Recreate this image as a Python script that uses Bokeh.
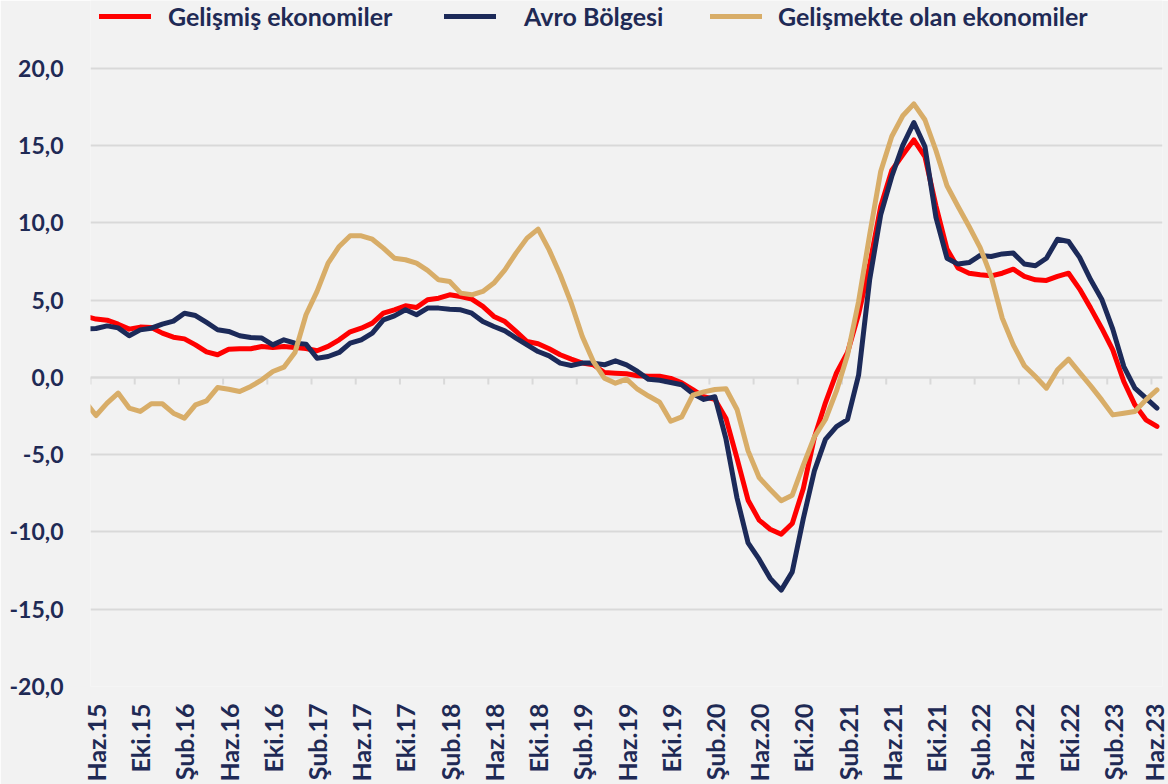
import math
from bokeh.plotting import figure
from bokeh.models import FixedTicker, Legend, LegendItem, Range1d, Span
from bokeh.embed import file_html
from bokeh.resources import INLINE

# x-axis labels (every 4th month, Haz.15 ... Haz.23)
tick_labels = ["Haz.15", "Eki.15", "Şub.16", "Haz.16", "Eki.16", "Şub.17", "Haz.17",
               "Eki.17", "Şub.18", "Haz.18", "Eki.18", "Şub.19", "Haz.19", "Eki.19",
               "Şub.20", "Haz.20", "Eki.20", "Şub.21", "Haz.21", "Eki.21", "Şub.22",
               "Haz.22", "Eki.22", "Şub.23", "Haz.23"]

# month index: -1 = May.15 (only its segment into the plot is visible), 0 = Haz.15 ... 96 = Haz.23
month_idx = list(range(-1, 97))

gelismis = [3.97, 3.78, 3.71, 3.45, 3.13, 3.26, 3.24, 2.87, 2.61, 2.50, 2.11,
            1.66, 1.47, 1.83, 1.86, 1.86, 2.01, 1.94, 2.01, 1.94, 1.88,
            1.73, 2.01, 2.44, 2.96, 3.19, 3.52, 4.16, 4.38, 4.64, 4.53,
            5.03, 5.13, 5.35, 5.24, 5.07, 4.60, 3.95, 3.62, 2.98, 2.33,
            2.18, 1.86, 1.47, 1.19, 0.93, 0.82, 0.32, 0.28, 0.24, 0.11,
            0.08, 0.08, -0.06, -0.35, -0.78, -1.25, -1.42, -2.65, -5.24, -7.94,
            -9.23, -9.82, -10.14, -9.45, -7.18, -3.88, -1.64, 0.30, 1.62, 4.10,
            7.29, 11.07, 13.40, 14.41, 15.38, 14.30, 11.11, 8.31, 7.08, 6.75,
            6.65, 6.58, 6.75, 7.01, 6.54, 6.32, 6.28, 6.54, 6.75, 5.72,
            4.49, 3.19, 1.79, -0.26, -1.77, -2.74, -3.17]

avro = [3.15, 3.17, 3.34, 3.21, 2.70, 3.08, 3.19, 3.45, 3.65, 4.16, 4.01,
        3.56, 3.09, 2.98, 2.70, 2.59, 2.55, 2.11, 2.44, 2.22, 2.16,
        1.25, 1.36, 1.62, 2.22, 2.44, 2.87, 3.73, 3.99, 4.38, 4.06,
        4.49, 4.49, 4.42, 4.38, 4.16, 3.62, 3.30, 3.02, 2.55, 2.11,
        1.68, 1.40, 0.93, 0.78, 0.93, 0.93, 0.82, 1.08, 0.82, 0.39,
        -0.12, -0.18, -0.32, -0.47, -1.04, -1.42, -1.25, -3.98, -7.80, -10.70,
        -11.76, -13.00, -13.76, -12.58, -9.13, -6.04, -4.01, -3.18, -2.72, 0.15,
        6.32, 10.53, 13.01, 15.02, 16.50, 14.95, 10.36, 7.72, 7.34, 7.44,
        7.90, 7.83, 8.00, 8.05, 7.34, 7.23, 7.72, 8.95, 8.80, 7.77,
        6.32, 5.07, 3.13, 0.71, -0.69, -1.34, -1.98]

gelismekte = [-1.55, -2.46, -1.66, -1.01, -1.98, -2.20, -1.70, -1.70, -2.31, -2.63, -1.77,
              -1.51, -0.65, -0.76, -0.91, -0.58, -0.15, 0.39, 0.67, 1.62, 4.06,
              5.57, 7.40, 8.48, 9.17, 9.17, 8.95, 8.37, 7.72, 7.62, 7.40,
              6.93, 6.32, 6.21, 5.46, 5.35, 5.57, 6.11, 6.97, 8.05, 9.02,
              9.60, 8.26, 6.65, 4.81, 2.65, 1.04, -0.04, -0.37, -0.11, -0.76,
              -1.20, -1.60, -2.83, -2.55, -1.14, -0.93, -0.78, -0.73, -2.07, -4.75,
              -6.47, -7.25, -7.98, -7.62, -5.67, -3.84, -2.72, -0.87, 1.45, 4.92,
              9.23, 13.33, 15.60, 16.94, 17.71, 16.68, 14.69, 12.41, 11.07, 9.77,
              8.41, 6.54, 3.84, 2.11, 0.76, 0.06, -0.69, 0.50, 1.19, 0.32,
              -0.54, -1.45, -2.42, -2.31, -2.20, -1.45, -0.80]

series_names = ["Gelişmiş ekonomiler", "Avro Bölgesi", "Gelişmekte olan ekonomiler"]
y_ticks = [-20, -15, -10, -5, 0, 5, 10, 15, 20]

RED = "#ff0000"
NAVY = "#1c2a59"
TAN = "#d8ad68"
TEXT = "#1f2a55"
GRID = "#d9d9d9"
BG = "#f2f2f2"
FONT = "Lato"

label_pos = [4 * k for k in range(len(tick_labels))]
boundary_ticks = [p - 0.5 for p in label_pos]

p = figure(width=1168, height=784, output_backend="svg", toolbar_location=None,
           x_range=Range1d(-0.5, 96.5), y_range=Range1d(-20, 24.40),
           min_border_left=90, min_border_right=6, min_border_top=0, min_border_bottom=98,
           background_fill_color=BG, border_fill_color=BG, outline_line_color=None)

# bottom labels
xa = p.xaxis[0]
xa.ticker = FixedTicker(ticks=label_pos)
xa.major_label_overrides = {pos: lab for pos, lab in zip(label_pos, tick_labels)}
xa.major_label_orientation = math.pi / 2
xa.axis_line_color = None
xa.major_tick_line_color = None
xa.minor_tick_line_color = None
xa.major_tick_out = 0
xa.major_tick_in = 0
xa.minor_tick_out = 0
xa.major_label_standoff = 17
xa.major_label_text_font = FONT
xa.major_label_text_font_style = "bold"
xa.major_label_text_font_size = "25px"
xa.major_label_text_color = TEXT
p.xgrid.visible = False

# y axis
ya = p.yaxis[0]
ya.ticker = FixedTicker(ticks=y_ticks)
ya.major_label_overrides = {v: f"{v:.1f}".replace(".", ",") for v in y_ticks}
ya.axis_line_color = None
ya.major_tick_line_color = None
ya.minor_tick_line_color = None
ya.major_tick_out = 0
ya.major_tick_in = 0
ya.minor_tick_out = 0
ya.major_label_standoff = 27
ya.major_label_text_font = FONT
ya.major_label_text_font_style = "bold"
ya.major_label_text_font_size = "23px"
ya.major_label_text_color = TEXT
p.ygrid.ticker = FixedTicker(ticks=y_ticks)
p.ygrid.grid_line_color = GRID
p.ygrid.grid_line_width = 2

# category axis line crossing at zero, with tick marks at category boundaries
p.add_layout(Span(location=0, dimension="width", line_color=GRID, line_width=2,
                  level="underlay"))
tick_len = 7 / 15.45  # ~7 px in data units
p.segment(x0=boundary_ticks, y0=[0] * len(boundary_ticks),
          x1=boundary_ticks, y1=[-tick_len] * len(boundary_ticks),
          line_color=GRID, line_width=2, level="underlay")

renderers = []
for vals, color in [(gelismis, RED), (avro, NAVY), (gelismekte, TAN)]:
    r = p.line(month_idx, vals, line_color=color, line_width=5,
               line_join="round", line_cap="round")
    renderers.append(r)

legend_x = [9, 354, 620]
standoffs = [17, 28, 16]
for name, r, lx, so in zip(series_names, renderers, legend_x, standoffs):
    leg = Legend(items=[LegendItem(label=name, renderers=[r])],
                 location=(lx, 655), orientation="horizontal",
                 glyph_width=52, glyph_height=30, label_height=30,
                 label_standoff=so, padding=0, margin=0, spacing=0,
                 background_fill_alpha=0, border_line_alpha=0,
                 label_text_font=FONT, label_text_font_style="bold",
                 label_text_font_size="25px", label_text_color=TEXT)
    p.add_layout(leg)

html = file_html(p, INLINE)
html = html.replace("<body>", '<body style="background-color:#f2f2f2;">', 1)
open("out.html", "w").write(html)
